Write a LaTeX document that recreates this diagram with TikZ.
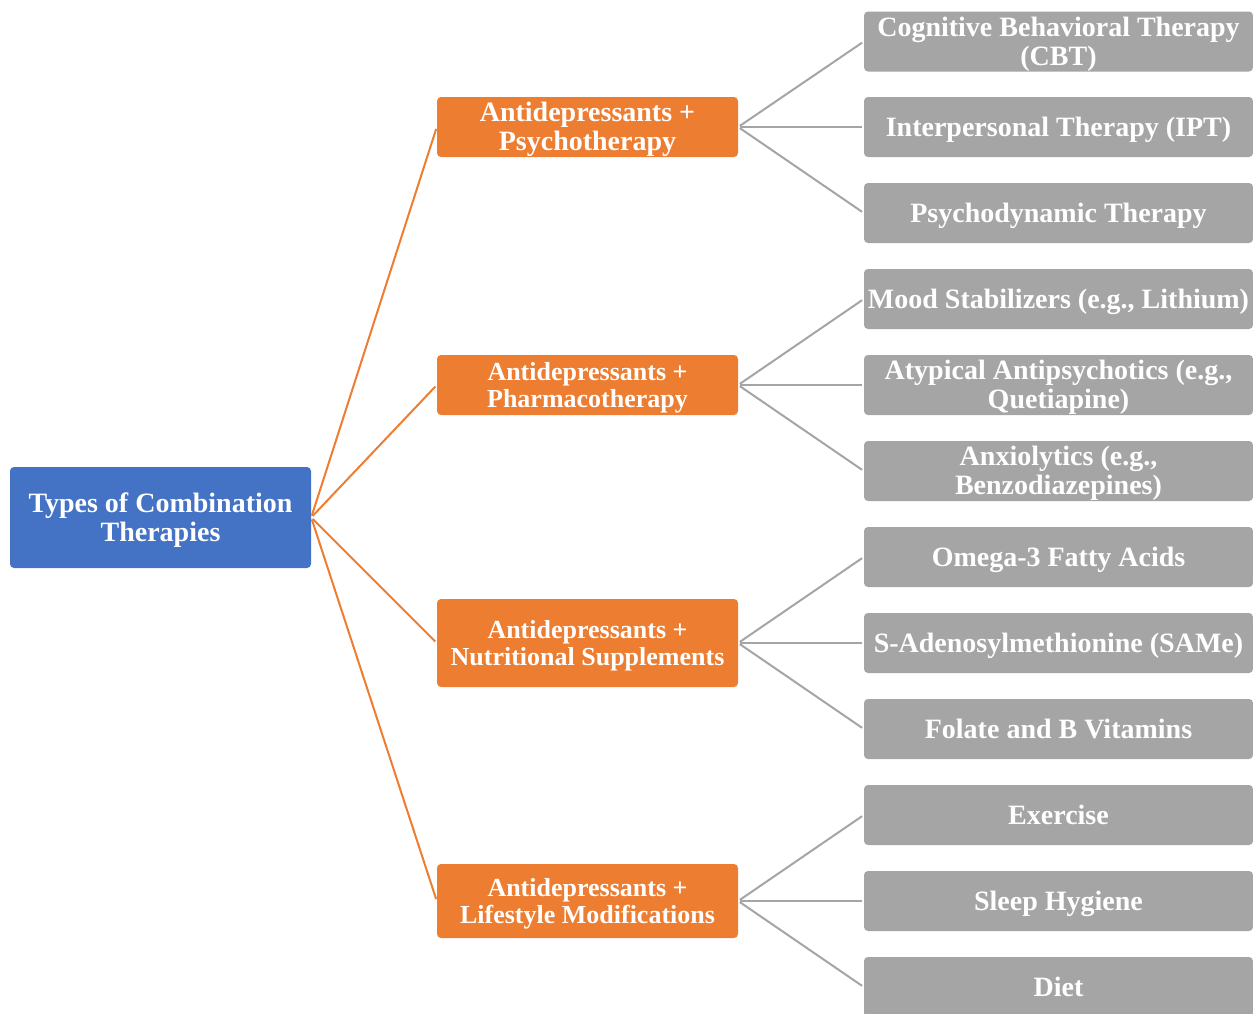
\documentclass[tikz,border=0pt]{standalone}
\usepackage{fontspec}
\setmainfont{Liberation Serif}
\definecolor{cblue}{HTML}{4472C4}
\definecolor{corange}{HTML}{ED7D31}
\definecolor{cgray}{HTML}{A5A5A5}
\newcommand\toprule{\rule{0pt}{0.891em}}
\newcommand\botrule{\rule[-0.216em]{0pt}{0pt}}
\begin{document}
\begin{tikzpicture}[x=1pt,y=-1pt,
  box/.style={rectangle, rounded corners=4pt, inner sep=0pt, align=center, text=white,
    font=\fontsize{28}{29}\selectfont\bfseries},
  smallfont/.style={font=\fontsize{26}{27}\selectfont\bfseries},
  rootbox/.style={box, fill=cblue, minimum width=301pt, minimum height=101pt},
  midbox/.style={box, fill=corange, minimum width=301pt},
  leafbox/.style={box, fill=cgray, minimum width=389pt, minimum height=60pt},
  oline/.style={draw=corange, line width=2pt, shorten <=2pt, shorten >=2pt},
  gline/.style={draw=cgray, line width=2pt, shorten <=2pt, shorten >=2pt}]
\useasboundingbox (0,0) rectangle (1253,1013);
\clip (0,0) rectangle (1253,1013);

\node[rootbox] (root) at (160.5,517.5) {\toprule Types of Combination\\Therapies\botrule};

\node[midbox, minimum height=60pt] (m1) at (587.5,127) {\toprule Antidepressants +\\Psychotherapy\botrule};
\node[midbox, smallfont, minimum height=60pt] (m2) at (587.5,385) {\toprule Antidepressants +\\Pharmacotherapy\botrule};
\node[midbox, smallfont, minimum height=88pt] (m3) at (587.5,643) {\toprule Antidepressants +\\Nutritional Supplements\botrule};
\node[midbox, smallfont, minimum height=74pt] (m4) at (587.5,901) {\toprule Antidepressants +\\Lifestyle Modifications\botrule};

\node[leafbox] (l1) at (1058.5,41.5) {\toprule Cognitive Behavioral Therapy\\(CBT)\botrule};
\node[leafbox] (l2) at (1058.5,127) {\toprule Interpersonal Therapy (IPT)\botrule};
\node[leafbox] (l3) at (1058.5,213) {\toprule Psychodynamic Therapy\botrule};
\node[leafbox] (l4) at (1058.5,299) {\toprule Mood Stabilizers (e.g., Lithium)\botrule};
\node[leafbox] (l5) at (1058.5,385) {\toprule Atypical Antipsychotics (e.g.,\\Quetiapine)\botrule};
\node[leafbox] (l6) at (1058.5,471) {\toprule Anxiolytics (e.g.,\\Benzodiazepines)\botrule};
\node[leafbox] (l7) at (1058.5,557) {\toprule Omega-3 Fatty Acids\botrule};
\node[leafbox] (l8) at (1058.5,643) {\toprule S-Adenosylmethionine (SAMe)\botrule};
\node[leafbox] (l9) at (1058.5,729) {\toprule Folate and B Vitamins\botrule};
\node[leafbox] (l10) at (1058.5,815) {\toprule Exercise\botrule};
\node[leafbox] (l11) at (1058.5,901) {\toprule Sleep Hygiene\botrule};
\node[leafbox] (l12) at (1058.5,987) {\toprule Diet\botrule};

\foreach \m in {m1,m2,m3,m4} \draw[oline] (root.east) -- (\m.west);
\foreach \l in {l1,l2,l3} \draw[gline] (m1.east) -- (\l.west);
\foreach \l in {l4,l5,l6} \draw[gline] (m2.east) -- (\l.west);
\foreach \l in {l7,l8,l9} \draw[gline] (m3.east) -- (\l.west);
\foreach \l in {l10,l11,l12} \draw[gline] (m4.east) -- (\l.west);
\end{tikzpicture}
\end{document}
